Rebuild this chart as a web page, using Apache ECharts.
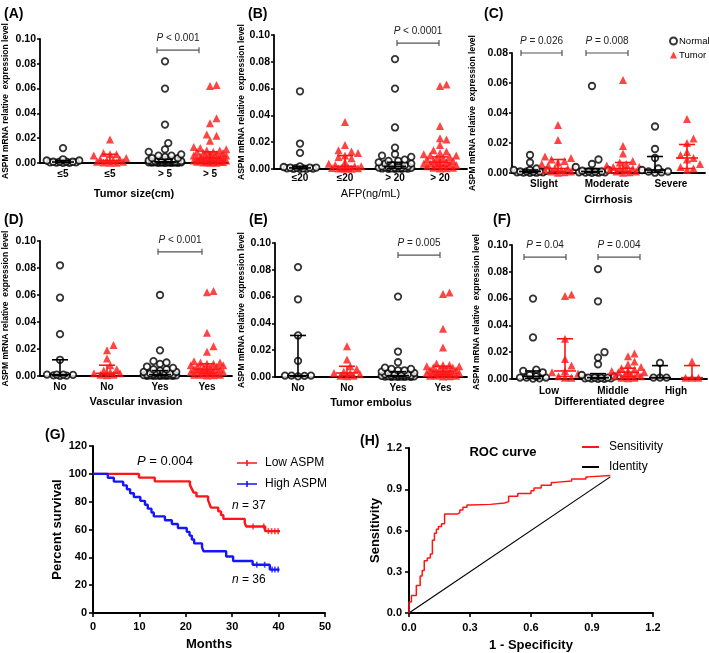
<!DOCTYPE html>
<html><head><meta charset="utf-8">
<script src="https://cdn.jsdelivr.net/npm/echarts@6/dist/echarts.min.js"></script>
<style>html,body{margin:0;padding:0;background:#fff}#c{width:709px;height:653px}</style>
</head><body><div id="c"></div>
<script>
// ---------------- DATA ----------------
const yNameText = 'ASPM mRNA relative  expression level';
// (A) Tumor size
const aLabels = ['≤5', '≤5', '> 5', '> 5'];
const aN1 = [0.012,0.003,0.002,0.002,0.001,0.001,0.001,0.001,0.0005,0.0005,0.0003,0.0002,0.0001];
const aT1 = [0.019,0.008,0.007,0.007,0.006,0.004,0.003,0.003,0.002,0.002,0.001,0.001,0.0005,0.0003,0.0002];
const aN2 = [0.082,0.060,0.031,0.016,0.011,0.009,0.007,0.006,0.006,0.005,0.004,0.004,0.003,0.003,0.003,0.002,0.002,0.002,0.002,0.0015,0.0015,0.001,0.001,0.001,0.001,0.001,0.0008,0.0008,0.0006,0.0006,0.0005,0.0005,0.0004,0.0004,0.0003,0.0003,0.0002,0.0002,0.0001,0.0001];
const aT2 = [0.063,0.062,0.036,0.032,0.023,0.022,0.018,0.013,0.012,0.011,0.010,0.010,0.009,0.009,0.008,0.008,0.007,0.007,0.006,0.006,0.005,0.005,0.005,0.004,0.004,0.004,0.003,0.003,0.003,0.002,0.002,0.002,0.0015,0.001,0.001,0.001,0.0008,0.0005,0.0003,0.0002];
const aIQR = [[0.0002,0.0008,0.002],[0.0005,0.002,0.007],[0.0003,0.001,0.003],[0.001,0.004,0.009]];
const aP = ['P < 0.001'];
// (B) AFP
const bLabels = ['≤20', '≤20', '> 20', '> 20'];
const bN1 = [0.058,0.019,0.012,0.002,0.0015,0.001,0.001,0.001,0.0008,0.0005,0.0005,0.0003,0.0002,0.0001,0.0001];
const bT1 = [0.035,0.018,0.014,0.013,0.012,0.010,0.009,0.008,0.005,0.004,0.003,0.002,0.002,0.001,0.001,0.0008,0.0005,0.0003,0.0002,0.0001];
const bN2 = [0.082,0.060,0.031,0.016,0.011,0.010,0.009,0.007,0.006,0.006,0.005,0.004,0.004,0.003,0.003,0.002,0.002,0.002,0.0015,0.001,0.001,0.001,0.001,0.0008,0.0006,0.0005,0.0005,0.0004,0.0003,0.0002,0.0002,0.0001];
const bT2 = [0.063,0.062,0.032,0.023,0.022,0.018,0.014,0.013,0.012,0.011,0.010,0.010,0.009,0.008,0.008,0.007,0.006,0.006,0.005,0.005,0.004,0.004,0.003,0.003,0.003,0.002,0.002,0.001,0.001,0.0005,0.0003];
const bIQR = [[0.0002,0.0008,0.002],[0.0005,0.002,0.010],[0.0005,0.002,0.005],[0.002,0.005,0.009]];
const bP = ['P < 0.0001'];
// (C) Cirrhosis
const cLabels = ['Slight', 'Moderate', 'Severe'];
const cN1 = [0.012,0.007,0.003,0.002,0.002,0.0015,0.001,0.001,0.001,0.0008,0.0005,0.0005,0.0003,0.0002,0.0001];
const cT1 = [0.032,0.022,0.011,0.010,0.009,0.008,0.007,0.006,0.005,0.004,0.003,0.003,0.002,0.002,0.001,0.001,0.0005,0.0002];
const cN2 = [0.058,0.009,0.006,0.004,0.002,0.0015,0.001,0.001,0.0008,0.0005,0.0005,0.0003,0.0002,0.0001];
const cT2 = [0.062,0.018,0.013,0.008,0.007,0.006,0.005,0.004,0.004,0.003,0.003,0.002,0.002,0.001,0.001,0.0005,0.0002];
const cN3 = [0.031,0.016,0.010,0.003,0.002,0.001,0.001,0.0005,0.0002];
const cT3 = [0.036,0.023,0.020,0.014,0.012,0.010,0.009,0.006,0.004,0.003,0.002];
const cIQR = [[0.0003,0.001,0.002],[0.001,0.003,0.009],[0.0003,0.001,0.003],[0.001,0.003,0.007],[0.0005,0.002,0.011],[0.003,0.010,0.019]];
const cP = ['P = 0.026', 'P = 0.008'];
// (D) Vascular invasion
const dLabels = ['No', 'No', 'Yes', 'Yes'];
const dN1 = [0.082,0.058,0.031,0.012,0.001,0.001,0.001,0.0008,0.0005,0.0003,0.0001];
const dT1 = [0.023,0.019,0.013,0.008,0.005,0.004,0.003,0.002,0.002,0.001,0.001,0.0005];
const dN2 = [0.060,0.019,0.011,0.010,0.009,0.007,0.006,0.005,0.005,0.004,0.003,0.003,0.002,0.002,0.002,0.0015,0.001,0.001,0.001,0.001,0.0008,0.0006,0.0005,0.0005,0.0004,0.0003,0.0003,0.0002,0.0002,0.0001,0.0001,0.0001];
const dT2 = [0.063,0.062,0.032,0.022,0.018,0.011,0.010,0.010,0.009,0.009,0.008,0.008,0.007,0.007,0.006,0.006,0.005,0.005,0.005,0.004,0.004,0.003,0.003,0.003,0.002,0.002,0.002,0.001,0.001,0.001,0.0005,0.0003];
const dIQR = [[0.0003,0.001,0.012],[0.001,0.002,0.008],[0.0003,0.001,0.004],[0.002,0.005,0.009]];
const dP = ['P < 0.001'];
// (E) Tumor embolus
const eLabels = ['No', 'No', 'Yes', 'Yes'];
const eN1 = [0.082,0.058,0.031,0.012,0.001,0.001,0.001,0.0008,0.0005];
const eT1 = [0.023,0.013,0.008,0.006,0.004,0.003,0.003,0.002,0.001,0.001,0.0005];
const eN2 = [0.060,0.019,0.011,0.007,0.006,0.006,0.005,0.005,0.004,0.003,0.003,0.002,0.002,0.002,0.0015,0.001,0.001,0.001,0.001,0.0008,0.0006,0.0005,0.0005,0.0004,0.0003,0.0003,0.0002,0.0002,0.0001,0.0001];
const eT2 = [0.063,0.062,0.036,0.022,0.010,0.009,0.009,0.008,0.008,0.007,0.007,0.006,0.006,0.005,0.005,0.004,0.004,0.004,0.003,0.003,0.003,0.002,0.002,0.002,0.001,0.001,0.001,0.0005,0.0003];
const eIQR = [[0.0005,0.001,0.031],[0.001,0.003,0.008],[0.0003,0.001,0.004],[0.002,0.004,0.008]];
const eP = ['P = 0.005'];
// (F) Differentiated degree
const fLabels = ['Low', 'Middle', 'High'];
const fN1 = [0.060,0.031,0.007,0.006,0.005,0.003,0.002,0.001,0.001,0.001,0.0005,0.0003];
const fT1 = [0.063,0.062,0.030,0.015,0.010,0.006,0.005,0.004,0.002,0.001,0.001];
const fN2 = [0.082,0.058,0.020,0.016,0.011,0.003,0.002,0.001,0.001,0.001,0.0008,0.0005,0.0005,0.0003,0.0002,0.0001];
const fT2 = [0.019,0.017,0.013,0.011,0.009,0.008,0.007,0.006,0.006,0.005,0.005,0.004,0.003,0.003,0.002,0.002,0.001,0.001,0.0005];
const fN3 = [0.012,0.001,0.001,0.001];
const fT3 = [0.013,0.001,0.001,0.001];
const fIQR = [[0.0005,0.002,0.006],[0.002,0.006,0.030],[0.0003,0.001,0.004],[0.002,0.005,0.008],[0.001,0.001,0.010],[0.001,0.001,0.010]];
const fP = ['P = 0.04', 'P = 0.004'];
// (G) Kaplan-Meier
const lowT = [0,9.9,13.3,20.9,21.3,21.7,22.3,24.8,25.1,25.4,27.0,27.6,28.1,32.7,33.0,37.1,40.3];
const lowS = [100,97.3,94.6,91.9,89.2,86.5,83.8,81.1,78.4,75.7,73.0,70.3,67.6,64.9,62.2,58.8,58.8];
const lowCensor = [34.5,36.8,37.8,38.5,39.2,39.9];
const highT = [0,3.2,4.5,6.5,7.3,8.0,8.8,10.2,11.2,11.8,12.6,13.1,15.5,17.0,18.3,20.2,20.8,21.3,21.8,23.5,23.8,28.7,30.2,34.4,38.1,40.2];
const highS = [100,97.2,94.4,91.7,88.9,86.1,83.3,80.6,77.8,75.0,72.2,69.4,66.7,63.9,61.1,58.3,55.6,52.8,50.0,47.2,44.4,40.6,37.4,34.7,31.2,31.2];
const highCensor = [35.3,37.0,38.6,39.2,39.9];
// (H) ROC
const rocFpr = [0,0,0.012,0.036,0.055,0.065,0.075,0.09,0.105,0.115,0.125,0.135,0.145,0.16,0.175,0.24,0.25,0.265,0.285,0.30,0.40,0.47,0.49,0.535,0.60,0.615,0.65,0.70,0.72,0.80,0.87,0.88,0.99];
const rocTpr = [0,0.08,0.128,0.20,0.27,0.31,0.38,0.40,0.43,0.53,0.58,0.61,0.63,0.65,0.72,0.73,0.75,0.77,0.785,0.79,0.80,0.81,0.85,0.87,0.89,0.91,0.93,0.95,0.96,0.975,0.99,1.0,1.0];
const identityX = [0, 0.99];
const identityY = [0, 0.99];

// ---------------- LAYOUT / STYLE ----------------
const FONT = '"Liberation Sans", Arial, Helvetica, sans-serif';
const RED = '#ff1515';
const BLUE = '#1515ff';

const panels = [
  {grid:{left:40,top:39,width:188,height:124}, ymax:0.10, centers:[23,70,125,170], groups:[aN1,aT1,aN2,aT2], iqr:aIQR,
   labels:aLabels, labelPos:[23,70,125,170], xName:'Tumor size(cm)', xNameGap:25, labelMargin:6, yNameGap:30,
   brackets:[[117,159,0.091,0]], pTexts:aP, nameWeight:'bold'},
  {grid:{left:274,top:35,width:193,height:134}, ymax:0.10, centers:[26,71,121,166], groups:[bN1,bT1,bN2,bT2], iqr:bIQR,
   labels:bLabels, labelPos:[26,71,121,166], xName:'AFP(ng/mL)', xNameGap:19, labelMargin:4, yNameGap:27,
   brackets:[[123,165,0.094,0]], pTexts:bP, nameWeight:'normal'},
  {grid:{left:512,top:53,width:193,height:120}, ymax:0.08, centers:[18,46,80,111,143,175], groups:[cN1,cT1,cN2,cT2,cN3,cT3], iqr:cIQR,
   labels:cLabels, labelPos:[32,95,159], xName:'Cirrhosis', xNameGap:21, labelMargin:6, yNameGap:35,
   brackets:[[9,50,0.08,0],[74,116,0.08,1]], pTexts:cP, nameWeight:'bold'},
  {grid:{left:40,top:241,width:192,height:135}, ymax:0.10, centers:[20,67,120,167], groups:[dN1,dT1,dN2,dT2], iqr:dIQR,
   labels:dLabels, labelPos:[20,67,120,167], xName:'Vascular invasion', xNameGap:20, labelMargin:6, yNameGap:30,
   brackets:[[118,162,0.092,0]], pTexts:dP, nameWeight:'bold'},
  {grid:{left:275,top:243,width:192,height:134}, ymax:0.10, centers:[23,72,123,168], groups:[eN1,eT1,eN2,eT2], iqr:eIQR,
   labels:eLabels, labelPos:[23,72,123,168], xName:'Tumor embolus', xNameGap:20, labelMargin:6, yNameGap:29,
   brackets:[[123,165,0.091,0]], pTexts:eP, nameWeight:'bold'},
  {grid:{left:512,top:245,width:195,height:134}, ymax:0.10, centers:[21,53,86,116,148,180], groups:[fN1,fT1,fN2,fT2,fN3,fT3], iqr:fIQR,
   labels:fLabels, labelPos:[37,101,164], xName:'Differentiated degree', xNameGap:14, labelMargin:7, yNameGap:31,
   brackets:[[12,54,0.091,0],[86,128,0.091,1]], pTexts:fP, nameWeight:'bold'}
];

function swarm(vals, cx, pxPerY, half, d) {
  const order = vals.map((v, i) => i).sort((a, b) => vals[a] - vals[b]);
  const steps = [0];
  for (let k = 1; k * d / 2 <= half; k++) steps.push(k * d / 2, -k * d / 2);
  const placed = [], out = [];
  for (const i of order) {
    const py = vals[i] * pxPerY;
    let best = 0, bestScore = -1;
    for (const o of steps) {
      let m = Infinity;
      for (const p of placed) m = Math.min(m, Math.hypot(p[0] - o, p[1] - py));
      if (m >= d) { best = o; break; }
      if (m > bestScore) { bestScore = m; best = o; }
    }
    placed.push([best, py]);
    out.push([cx + best, vals[i]]);
  }
  return out;
}

function iqrRender(color) {
  return function (params, api) {
    const x = api.value(0);
    const lo = api.coord([x, api.value(1)]), md = api.coord([x, api.value(2)]), hi = api.coord([x, api.value(3)]);
    const st = {stroke: color, lineWidth: 1.6};
    const CAP = 8, MED = 11;
    return {type: 'group', children: [
      {type: 'line', shape: {x1: lo[0], y1: lo[1], x2: hi[0], y2: hi[1]}, style: st},
      {type: 'line', shape: {x1: hi[0] - CAP, y1: hi[1], x2: hi[0] + CAP, y2: hi[1]}, style: st},
      {type: 'line', shape: {x1: lo[0] - CAP, y1: lo[1], x2: lo[0] + CAP, y2: lo[1]}, style: st},
      {type: 'line', shape: {x1: md[0] - MED, y1: md[1], x2: md[0] + MED, y2: md[1]}, style: st}
    ]};
  };
}

function bracketRender(texts) {
  return function (params, api) {
    const y = api.value(2);
    const a = api.coord([api.value(0), y]), b = api.coord([api.value(1), y]);
    const st = {stroke: '#555', lineWidth: 1.2};
    const t = texts[api.value(3)].replace(/^P/, '{i|P}');
    return {type: 'group', children: [
      {type: 'line', shape: {x1: a[0], y1: a[1], x2: b[0], y2: b[1]}, style: st},
      {type: 'line', shape: {x1: a[0], y1: a[1] - 3, x2: a[0], y2: a[1] + 3}, style: st},
      {type: 'line', shape: {x1: b[0], y1: b[1] - 3, x2: b[0], y2: b[1] + 3}, style: st},
      {type: 'text', x: (a[0] + b[0]) / 2, y: a[1] - 11.5, style: {
        text: t, fontSize: 10, fontFamily: FONT, fill: '#222', align: 'center', verticalAlign: 'middle',
        rich: {i: {fontStyle: 'italic', fontSize: 10, fontFamily: FONT, fill: '#222'}}}}
    ]};
  };
}

const grids = [], xAxes = [], yAxes = [], series = [];
const axisLineStyle = {color: '#000', width: 1.8};

panels.forEach((p, gi) => {
  grids.push(Object.assign({containLabel: false}, p.grid));
  const labelMap = {};
  p.labelPos.forEach((v, i) => { labelMap[v] = p.labels[i]; });
  xAxes.push({
    type: 'value', gridIndex: gi, min: 0, max: p.grid.width,
    name: p.xName, nameLocation: 'middle', nameGap: p.xNameGap,
    nameTextStyle: {fontSize: 11, fontWeight: p.nameWeight, fontFamily: FONT, color: '#000'},
    axisLine: {show: true, onZero: false, lineStyle: axisLineStyle},
    axisTick: {show: false}, splitLine: {show: false},
    axisLabel: {customValues: p.labelPos, formatter: v => labelMap[v] || '', fontSize: 10, fontWeight: 'bold',
      fontFamily: FONT, color: '#000', margin: p.labelMargin}
  });
  yAxes.push({
    type: 'value', gridIndex: gi, min: 0, max: p.ymax, interval: 0.02,
    name: yNameText, nameLocation: 'middle', nameGap: p.yNameGap,
    nameTextStyle: {fontSize: 8.5, fontWeight: 'bold', fontFamily: FONT, color: '#000'},
    axisLine: {show: true, onZero: false, lineStyle: axisLineStyle},
    axisTick: {show: true, length: 3, lineStyle: {color: '#000', width: 1.5}},
    splitLine: {show: false},
    axisLabel: {formatter: v => v.toFixed(2), fontSize: 10.5, fontWeight: 'bold', fontFamily: FONT, color: '#000', margin: 4}
  });
  const pxPerY = p.grid.height / p.ymax;
  p.groups.forEach((vals, k) => {
    const normal = k % 2 === 0;
    series.push({
      type: 'scatter', name: normal ? 'Normal' : 'Tumor', xAxisIndex: gi, yAxisIndex: gi,
      data: swarm(vals, p.centers[k], pxPerY, 19, 6.5),
      symbol: normal ? 'circle' : 'triangle', symbolSize: normal ? 6.5 : 8,
      itemStyle: normal ? {color: '#fff', borderColor: '#000', borderWidth: 1.8} : {color: RED},
      z: 2, silent: true
    });
  });
  const iqrN = [], iqrT = [];
  p.iqr.forEach((q, k) => { (k % 2 === 0 ? iqrN : iqrT).push([p.centers[k], q[0], q[1], q[2]]); });
  series.push({type: 'custom', xAxisIndex: gi, yAxisIndex: gi, renderItem: iqrRender('#000'), data: iqrN, z: 3, silent: true});
  series.push({type: 'custom', xAxisIndex: gi, yAxisIndex: gi, renderItem: iqrRender(RED), data: iqrT, z: 3, silent: true});
  series.push({type: 'custom', xAxisIndex: gi, yAxisIndex: gi, renderItem: bracketRender(p.pTexts), data: p.brackets, z: 4, silent: true, clip: false});
});

// (G) grid index 6
grids.push({left: 93, top: 446, width: 232, height: 167});
xAxes.push({type: 'value', gridIndex: 6, min: 0, max: 50, interval: 10, name: 'Months', nameLocation: 'middle', nameGap: 25,
  nameTextStyle: {fontSize: 13, fontWeight: 'bold', fontFamily: FONT, color: '#000'},
  axisLine: {show: true, onZero: false, lineStyle: {color: '#000', width: 2}},
  axisTick: {show: true, length: 4, lineStyle: {color: '#000', width: 1.6}}, splitLine: {show: false},
  axisLabel: {fontSize: 11, fontWeight: 'bold', fontFamily: FONT, color: '#000', margin: 8}});
yAxes.push({type: 'value', gridIndex: 6, min: 0, max: 120, interval: 20, name: 'Percent survival', nameLocation: 'middle', nameGap: 29,
  nameTextStyle: {fontSize: 13, fontWeight: 'bold', fontFamily: FONT, color: '#000'},
  axisLine: {show: true, onZero: false, lineStyle: {color: '#000', width: 2}},
  axisTick: {show: true, length: 4, lineStyle: {color: '#000', width: 1.6}}, splitLine: {show: false},
  axisLabel: {fontSize: 11, fontWeight: 'bold', fontFamily: FONT, color: '#000', margin: 6}});

function survAt(ts, ss, t) { let s = ss[0]; for (let i = 0; i < ts.length; i++) if (ts[i] <= t) s = ss[i]; return s; }
series.push({type: 'line', name: 'Low ASPM', xAxisIndex: 6, yAxisIndex: 6, step: 'end', showSymbol: false, symbol: 'none',
  data: lowT.map((t, i) => [t, lowS[i]]), lineStyle: {color: RED, width: 2.4}, itemStyle: {color: RED}, z: 3, silent: true});
series.push({type: 'line', name: 'High ASPM', xAxisIndex: 6, yAxisIndex: 6, step: 'end', showSymbol: false, symbol: 'none',
  data: highT.map((t, i) => [t, highS[i]]), lineStyle: {color: BLUE, width: 2.4}, itemStyle: {color: BLUE}, z: 3, silent: true});
series.push({type: 'scatter', name: 'lowCens', xAxisIndex: 6, yAxisIndex: 6, symbol: 'rect', symbolSize: [1.6, 6],
  data: lowCensor.map(t => [t, survAt(lowT, lowS, t)]), itemStyle: {color: RED}, z: 4, silent: true});
series.push({type: 'scatter', name: 'highCens', xAxisIndex: 6, yAxisIndex: 6, symbol: 'rect', symbolSize: [1.6, 6],
  data: highCensor.map(t => [t, survAt(highT, highS, t)]), itemStyle: {color: BLUE}, z: 4, silent: true});

// (H) grid index 7
grids.push({left: 409, top: 448, width: 244, height: 165});
xAxes.push({type: 'value', gridIndex: 7, min: 0, max: 1.2, interval: 0.3, name: '1 - Specificity', nameLocation: 'middle', nameGap: 26,
  nameTextStyle: {fontSize: 13, fontWeight: 'bold', fontFamily: FONT, color: '#000'},
  axisLine: {show: true, onZero: false, lineStyle: {color: '#000', width: 2}},
  axisTick: {show: true, length: 4, lineStyle: {color: '#000', width: 1.6}}, splitLine: {show: false},
  axisLabel: {formatter: v => v.toFixed(1), fontSize: 11, fontWeight: 'bold', fontFamily: FONT, color: '#000', margin: 9}});
yAxes.push({type: 'value', gridIndex: 7, min: 0, max: 1.2, interval: 0.3, name: 'Sensitivity', nameLocation: 'middle', nameGap: 27,
  nameTextStyle: {fontSize: 13, fontWeight: 'bold', fontFamily: FONT, color: '#000'},
  axisLine: {show: true, onZero: false, lineStyle: {color: '#000', width: 2}},
  axisTick: {show: true, length: 4, lineStyle: {color: '#000', width: 1.6}}, splitLine: {show: false},
  axisLabel: {formatter: v => v.toFixed(1), fontSize: 11, fontWeight: 'bold', fontFamily: FONT, color: '#000', margin: 7}});
series.push({type: 'line', name: 'Identity', xAxisIndex: 7, yAxisIndex: 7, showSymbol: false, symbol: 'none',
  data: identityX.map((x, i) => [x, identityY[i]]), lineStyle: {color: '#000', width: 1.2}, itemStyle: {color: '#000'}, z: 2, silent: true});
series.push({type: 'line', name: 'Sensitivity', xAxisIndex: 7, yAxisIndex: 7, step: 'end', showSymbol: false, symbol: 'none',
  data: rocFpr.map((x, i) => [x, rocTpr[i]]), lineStyle: {color: RED, width: 1.5}, itemStyle: {color: RED}, z: 3, silent: true});

const titleStyle = {fontSize: 14, fontWeight: 'bold', fontFamily: FONT, color: '#000'};
const titles = [
  ['(A)', 4, 7], ['(B)', 248, 7], ['(C)', 484, 7], ['(D)', 4, 213], ['(E)', 249, 213], ['(F)', 493, 213], ['(G)', 45, 428], ['(H)', 360, 434]
].map(t => ({text: t[0], left: t[1], top: t[2], padding: 0, textStyle: titleStyle}));
titles.push({text: 'ROC curve', left: 503, top: 446, textAlign: 'center', padding: 0,
  textStyle: {fontSize: 13, fontWeight: 'bold', fontFamily: FONT, color: '#000'}});

const option = {
  backgroundColor: '#fff',
  animation: false,
  title: titles,
  grid: grids, xAxis: xAxes, yAxis: yAxes, series: series,
  legend: [
    {data: ['Normal', 'Tumor'], left: 664, top: 31, orient: 'vertical', itemGap: 4, itemWidth: 7, itemHeight: 7,
     textStyle: {fontSize: 9.5, fontFamily: FONT, color: '#000', padding: [0, 0, 0, -3]}, selectedMode: false},
    {data: [{name: 'Low ASPM', icon: 'path://M0 2.2H20V3.8H0Z M9.2 0H10.8V6H9.2Z'}, {name: 'High ASPM', icon: 'path://M0 2.2H20V3.8H0Z M9.2 0H10.8V6H9.2Z'}],
     left: 232, top: 452, orient: 'vertical', itemGap: 9, itemWidth: 20, itemHeight: 6,
     textStyle: {fontSize: 12, fontFamily: FONT, color: '#000', padding: [0, 0, 0, 3]}, selectedMode: false},
    {data: [{name: 'Sensitivity', icon: 'rect'}, {name: 'Identity', icon: 'rect'}], left: 577, top: 436, orient: 'vertical',
     itemGap: 8, itemWidth: 17, itemHeight: 2, textStyle: {fontSize: 12, fontFamily: FONT, color: '#000', padding: [0, 0, 0, 5]}, selectedMode: false}
  ],
  graphic: [
    {type: 'text', x: 165, y: 461, style: {text: '{i|P} = 0.004', fontSize: 13, fontFamily: FONT, fill: '#000', align: 'center', verticalAlign: 'middle',
      rich: {i: {fontStyle: 'italic', fontSize: 13, fontFamily: FONT, fill: '#000'}}}},
    {type: 'text', x: 232, y: 506, style: {text: '{i|n} = 37', fontSize: 12, fontFamily: FONT, fill: '#000', align: 'left', verticalAlign: 'middle',
      rich: {i: {fontStyle: 'italic', fontSize: 12, fontFamily: FONT, fill: '#000'}}}},
    {type: 'text', x: 232, y: 580, style: {text: '{i|n} = 36', fontSize: 12, fontFamily: FONT, fill: '#000', align: 'left', verticalAlign: 'middle',
      rich: {i: {fontStyle: 'italic', fontSize: 12, fontFamily: FONT, fill: '#000'}}}}
  ]
};

const chart = echarts.init(document.getElementById('c'), null, {renderer: 'canvas'});
chart.setOption(option);
</script></body></html>
